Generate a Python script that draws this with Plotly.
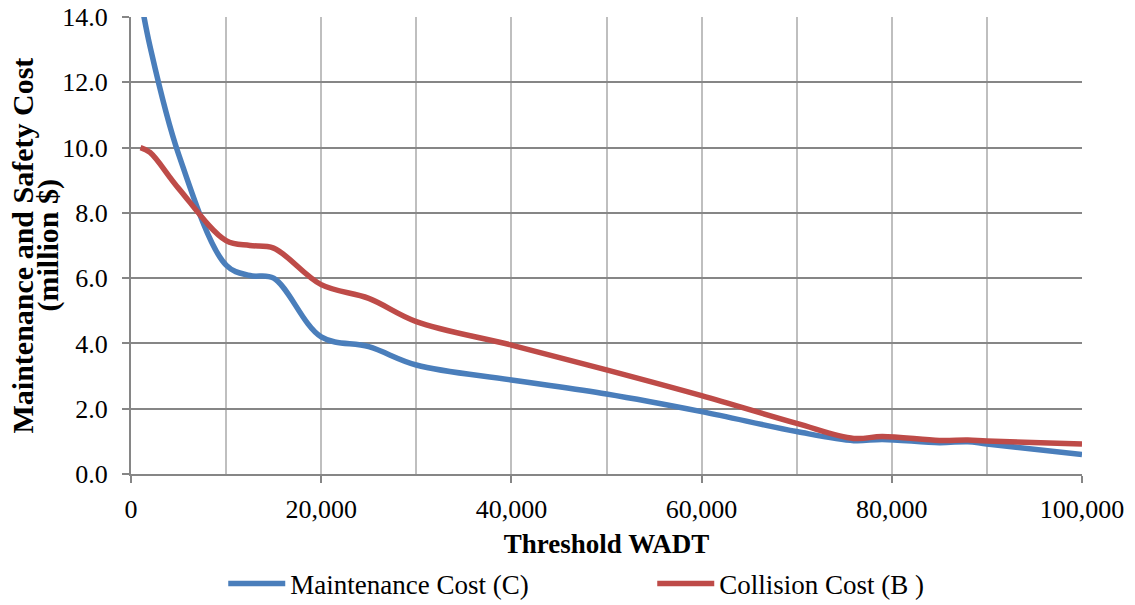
import plotly.graph_objects as go

wadt = [1000, 2000, 5000, 10000, 12500, 15000, 20000, 25000, 30000, 40000,
        50000, 60000, 70000, 76000, 79000, 85000, 88000, 90000, 100000]
maintenance = [14.6, 13.1, 9.8, 6.4, 6.08, 6.0, 4.2, 3.9, 3.34, 2.88,
               2.45, 1.91, 1.30, 1.02, 1.06, 0.96, 0.99, 0.92, 0.60]
collision = [10.0, 9.85, 8.75, 7.15, 7.0, 6.92, 5.8, 5.38, 4.67, 3.95,
             3.19, 2.40, 1.55, 1.09, 1.15, 1.03, 1.04, 1.01, 0.92]

x_ticks = [0, 20000, 40000, 60000, 80000, 100000]
y_ticks = [0, 2, 4, 6, 8, 10, 12, 14]

FONT = "Liberation Serif"

fig = go.Figure()
fig.add_trace(go.Scatter(x=wadt, y=maintenance, mode="lines",
                         name="Maintenance Cost (C)",
                         line=dict(color="#4A7EBB", width=5.5, shape="spline", smoothing=1)))
fig.add_trace(go.Scatter(x=wadt, y=collision, mode="lines",
                         name="Collision Cost (B )",
                         line=dict(color="#BE4B48", width=5.5, shape="spline", smoothing=1)))

fig.update_layout(
    width=1135, height=605,
    margin=dict(l=131, r=53, t=17, b=131),
    paper_bgcolor="white", plot_bgcolor="white",
    font=dict(family=FONT, size=26, color="black"),
    showlegend=True,
    legend=dict(orientation="h", x=0.097, xanchor="left",
                yref="container", y=0.035, yanchor="middle",
                font=dict(size=27), entrywidth=357, entrywidthmode="pixels",
                itemwidth=57, borderwidth=0, tracegroupgap=0),
    xaxis=dict(range=[0, 100000], tickvals=x_ticks, tickformat=",",
               automargin=False,
               showgrid=True, gridcolor="#BFBFBF", gridwidth=2,
               minor=dict(dtick=10000, showgrid=True, gridcolor="#BFBFBF", gridwidth=2),
               showline=True, linecolor="#868686", linewidth=2,
               ticks="outside", ticklen=7, tickcolor="#868686", tickwidth=2,
               zeroline=False, ticklabelstandoff=4,
               title=dict(text="<b>Threshold WADT</b>", font=dict(size=27), standoff=12)),
    yaxis=dict(range=[0, 14], tickvals=y_ticks, tickformat=".1f",
               automargin=False,
               showgrid=True, gridcolor="#868686", gridwidth=2,
               showline=True, linecolor="#868686", linewidth=2,
               ticks="outside", ticklen=7, tickcolor="#868686", tickwidth=2,
               zeroline=False, ticklabelstandoff=9),
)

fig.add_annotation(text="<b>Maintenance and Safety Cost</b>", xref="paper", yref="paper",
                   x=0, y=0.5, xshift=-109, textangle=-90, showarrow=False,
                   font=dict(size=30), xanchor="center", yanchor="middle")
fig.add_annotation(text="<b>(million $)</b>", xref="paper", yref="paper",
                   x=0, y=0.5, xshift=-84, textangle=-90, showarrow=False,
                   font=dict(size=30), xanchor="center", yanchor="middle")

fig.write_html("out.html")
